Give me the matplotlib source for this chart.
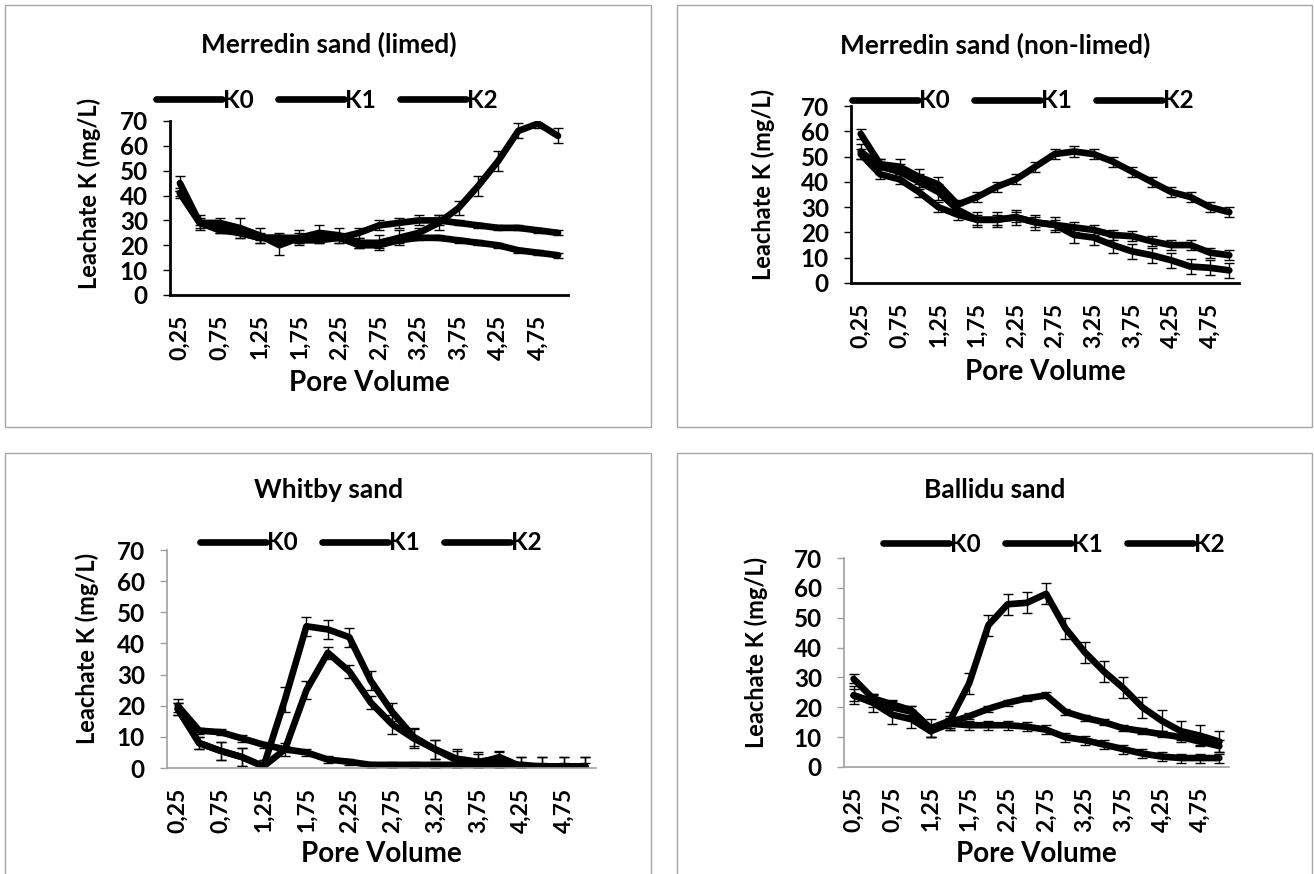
import numpy as np
import matplotlib
matplotlib.use('Agg')
from matplotlib import pyplot as plt
from matplotlib.patches import Rectangle

plt.rcParams['font.family'] = ['Lato', 'DejaVu Sans']
plt.rcParams['font.weight'] = 'bold'

# pore volume categories 0.25 .. 5.00
pore_volume = ['0,25', '0,5', '0,75', '1', '1,25', '1,5', '1,75', '2', '2,25', '2,5',
               '2,75', '3', '3,25', '3,5', '3,75', '4', '4,25', '4,5', '4,75', '5']
series_names = ['K0', 'K1', 'K2']

# Merredin sand (limed)
lim_k0 = [41, 29, 26, 25, 23, 23, 22, 22, 23, 20, 20, 22, 23, 23, 22, 21, 20, 18, 17, 16]
lim_k1 = [41, 29, 27, 25, 23, 23, 23, 23, 23, 25, 28, 29, 30, 30, 29, 28, 27, 27, 26, 25]
lim_k2 = [45, 29, 29, 27, 24, 20, 23, 25, 24, 21, 21, 23, 25, 29, 35, 44, 54, 66, 69, 64]
lim_e0 = [1, 1, 1, 1, 1, 1, 1, 1, 1, 1, 1, 1, 1, 1, 1, 1, 1, 1, 1, 1]
lim_e1 = [2, 2, 2, 2, 2, 2, 2, 2, 2, 2, 2, 2, 2, 2, 1, 1, 1, 1, 1, 1]
lim_e2 = [3, 3, 2, 4, 3, 4, 3, 3, 3, 2, 3, 3, 2, 3, 3, 4, 4, 3, 2, 3]

# Merredin sand (non-limed)
non_k0 = [51, 43, 41, 36, 30, 27, 25, 25, 26, 24, 23, 19, 18, 15, 12.5, 11, 9, 6.5, 6, 5]
non_k1 = [52, 46, 44, 40, 36, 29, 25, 25, 26, 24, 23, 22, 21, 19, 18.5, 16.5, 15, 15, 12, 11]
non_k2 = [59, 47, 46, 42, 39, 31, 34, 38, 41, 46, 51, 52, 51, 48, 44, 40, 36, 34, 30, 28]
non_e0 = [2, 2, 2, 2, 2, 2, 2, 2, 2, 2, 2, 3, 3, 3, 3, 3, 3, 3, 3, 3]
non_e1 = [3, 3, 3, 3, 3, 2, 3, 3, 3, 3, 3, 2, 2, 2, 2, 2, 2, 2, 2, 2]
non_e2 = [2, 2, 3, 3, 3, 2, 2, 2, 2, 2, 2, 2, 2, 2, 2, 2, 2, 2, 2, 2]

# Whitby sand
whi_k0 = [20, 12, 11.5, 9.5, 7.5, 6, 5, 2.7, 2, 1, 1, 1, 1, 1, 1, 1, 1, 0.5, 0.5, 0.5]
whi_k1 = [19, 8, 5.5, 3.5, 0.5, 6, 25, 37, 31, 21, 14, 9.5, 6, 2.5, 1.5, 3.5, 0.5, 0.5, 0.5, 0.5]
whi_k2 = [19, 8, 5.5, 3.5, 0.5, 22, 45.5, 44.5, 42, 28, 18, 10, 6, 3, 2, 3, 0.5, 0.5, 0.5, 0.5]
whi_e0 = [2, 1, 1, 1, 1, 1, 1, 1, 1, 1, 1, 1, 1, 1, 1, 1, 1, 1, 1, 1]
whi_e1 = [2, 2, 3, 3, 2, 2, 3, 2, 2, 2, 3, 3, 3, 3, 3, 2, 3, 3, 3, 3]
whi_e2 = [2, 2, 3, 3, 2, 4, 3, 3, 3, 3, 3, 3, 3, 3, 3, 2, 3, 3, 3, 3]

# Ballidu sand
bal_k0 = [24, 21.5, 17.5, 16, 12, 14.5, 14, 14, 14, 13.5, 12.5, 10, 9, 7.5, 6, 4.5, 3.5, 3, 3, 3]
bal_k1 = [24, 22, 20, 18.5, 12, 15, 17, 19.5, 21.5, 23, 24, 18.5, 16.5, 15, 13, 12, 11, 10, 8.5, 7]
bal_k2 = [29.5, 23, 21, 19, 13, 15.5, 28, 47.5, 54.5, 55, 58, 46.5, 38.5, 32, 26.5, 20, 15.5, 12, 10.5, 8.5]
bal_e0 = [3, 3, 3, 3, 2, 2, 1.5, 1.5, 1.5, 1.5, 1.5, 1.5, 1.5, 1.5, 1.5, 1.5, 1.5, 1.5, 1.5, 1.5]
bal_e1 = [2, 2, 2, 2, 2, 2, 1, 1, 1, 1, 1, 1, 1, 1, 1, 1, 1, 1, 1, 2]
bal_e2 = [1.5, 1.5, 1.5, 1.5, 3, 3, 3.5, 3.5, 3.5, 3.5, 3.5, 3.5, 3.5, 3.5, 3.5, 3.5, 3.5, 3.5, 3.5, 3.5]

W, H = 1314, 874


def px_rect(x0, y0, x1, y1):
    # pixel box (top-left origin) -> figure fraction
    return [x0 / W, 1 - y1 / H, (x1 - x0) / W, (y1 - y0) / H]


def draw_panel(fig, box, title, title_xy, leg_xy, ylab_xy, xlab_y, data, errs, spine_col):
    ax = fig.add_axes(px_rect(*box))
    x = np.arange(len(pore_volume))
    for vals, err, name in zip(data, errs, series_names):
        ax.errorbar(x, vals, yerr=err, color='black', lw=4.8, elinewidth=1.0,
                    capsize=3.5, capthick=1.0, label=name, solid_capstyle='round',
                    solid_joinstyle='round')
    ax.set_xlim(-0.5, len(pore_volume) - 0.5)
    ax.set_ylim(0, 70)
    ax.set_yticks(range(0, 71, 10))
    ax.set_xticks(x[::2])
    ax.set_xticklabels(pore_volume[::2], rotation=90, fontsize=16.5, fontweight='bold')
    ax.tick_params(axis='x', length=0, pad=14)
    ax.tick_params(axis='y', length=5, width=1, color=spine_col, labelsize=17.5, pad=11)
    for s in ['top', 'right']:
        ax.spines[s].set_visible(False)
    lw = 2 if spine_col == 'black' else 1.2
    for s in ['left', 'bottom']:
        ax.spines[s].set_color(spine_col)
        ax.spines[s].set_linewidth(lw)
    fig.text(title_xy[0] / W, 1 - title_xy[1] / H, title, ha='center', va='center',
             fontsize=19, fontweight='bold')
    fig.text(ylab_xy[0] / W, 1 - ylab_xy[1] / H, 'Leachate K (mg/L)', rotation=90,
             ha='center', va='center', fontsize=17, fontweight='bold')
    fig.text((box[0] + box[2]) / 2 / W, 1 - xlab_y / H, 'Pore Volume', ha='center',
             va='center', fontsize=20, fontweight='bold')
    handles, labels = ax.get_legend_handles_labels()
    handles = [h[0] for h in handles]
    fig.legend(handles, labels, loc='center', ncol=3,
               bbox_to_anchor=(leg_xy[0] / W, 1 - leg_xy[1] / H),
               frameon=False, handlelength=2.7, handletextpad=0.05,
               columnspacing=1.0, prop={'size': 17.5, 'weight': 'bold'})
    return ax


fig = plt.figure(figsize=(W / 100, H / 100), dpi=100)

for r in [(5, 5, 651, 427), (677, 5, 1312, 427), (5, 453, 651, 880), (677, 453, 1312, 880)]:
    fig.patches.append(Rectangle((r[0] / W, 1 - r[3] / H), (r[2] - r[0]) / W,
                                 (r[3] - r[1]) / H, transform=fig.transFigure,
                                 fill=False, edgecolor='#a6a6a6', lw=1))

draw_panel(fig, (170, 121, 568, 295), 'Merredin sand (limed)', (329, 44), (327, 100),
           (89, 193), 383, [lim_k0, lim_k1, lim_k2], [lim_e0, lim_e1, lim_e2], 'black')
draw_panel(fig, (851, 106, 1239, 283), 'Merredin sand (non-limed)', (995, 45), (1023, 101),
           (763, 184), 372, [non_k0, non_k1, non_k2], [non_e0, non_e1, non_e2], 'black')
draw_panel(fig, (167, 550, 596, 768), 'Whitby sand', (329, 490), (371, 543),
           (87, 648), 854, [whi_k0, whi_k1, whi_k2], [whi_e0, whi_e1, whi_e2], '#a0a0a0')
draw_panel(fig, (844, 558, 1229, 767), 'Ballidu sand', (995, 490), (1054, 544),
           (756, 652), 854, [bal_k0, bal_k1, bal_k2], [bal_e0, bal_e1, bal_e2], '#a0a0a0')

fig.savefig('out.png', dpi=100, facecolor='white')
